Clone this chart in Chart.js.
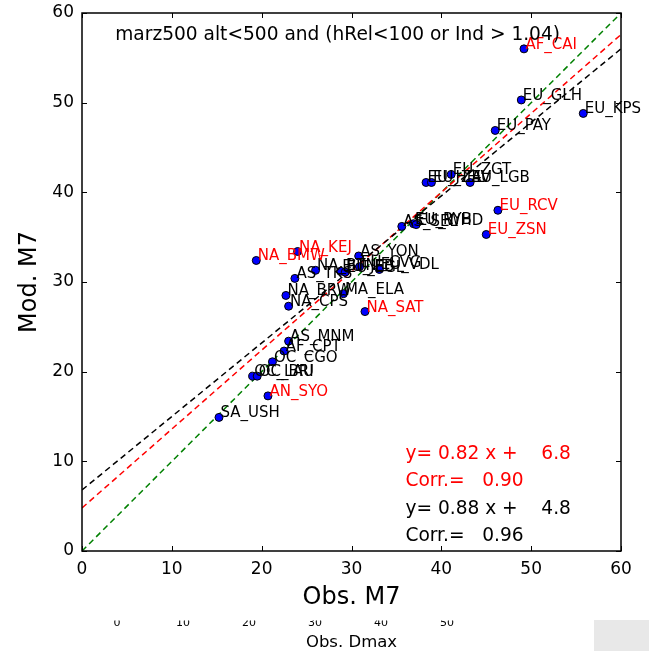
<!DOCTYPE html>
<html>
<head>
<meta charset="utf-8">
<script src="https://cdn.jsdelivr.net/npm/chart.js@4/dist/chart.umd.min.js"></script>
<style>
  body { margin: 0; background: #fff; }
  #wrap { position: relative; width: 649px; height: 651px; }
  #corner { position: absolute; left: 594px; top: 620px; width: 55px; height: 31px; background: #e8e8e8; }
</style>
</head>
<body>
<div id="wrap">
  <canvas id="scatterChart" width="649" height="651"></canvas>
  <div id="corner"></div>
</div>
<script>
// stations with black labels
const blackNames = ["EU_GLH", "EU_KPS", "EU_PAY", "EU_ZGT", "EU_HEL", "EU_ZAV", "EU_LGB",
  "AS_SEL", "EU_RYB", "EU_WHD", "AS_YON", "NA_BTN", "EU_JEB", "EU_EGL", "EU_CVG", "EU_VDL",
  "AS_TKS", "NA_BRW", "NA_CPS", "MA_ELA", "AS_MNM", "AF_CPT", "OC_CGO", "OC_LAU", "OC_BRI", "SA_USH"];
const blackObs = [48.9, 55.8, 46.0, 41.1, 38.3, 38.9, 43.2,
  35.6, 36.9, 37.2, 30.8, 26.0, 28.8, 29.3, 30.9, 33.1,
  23.7, 22.7, 23.0, 29.1, 23.0, 22.5, 21.2, 19.0, 19.5, 15.25];
const blackMod = [50.3, 48.8, 46.9, 42.0, 41.1, 41.1, 41.1,
  36.2, 36.5, 36.4, 32.9, 31.3, 31.2, 31.1, 31.7, 31.4,
  30.4, 28.5, 27.3, 28.7, 23.4, 22.3, 21.1, 19.5, 19.5, 14.9];

// stations with red labels
const redNames = ["AF_CAI", "NA_BMW", "NA_KEJ", "NA_SAT", "EU_RCV", "EU_ZSN", "AN_SYO"];
const redObs = [49.2, 19.4, 24.0, 31.5, 46.3, 45.0, 20.7];
const redMod = [56.0, 32.4, 33.4, 26.7, 38.0, 35.3, 17.3];

// regression lines as drawn: [slope, intercept]
const blackFit = [0.82, 6.8];
const redFit = [0.88, 4.8];
const xRange = [0, 60];

const axisTicks = [0, 10, 20, 30, 40, 50, 60];
const dmaxTicks = [0, 10, 20, 30, 40, 50];

const titleText = "marz500 alt<500 and (hRel<100 or Ind > 1.04)";
const statsLines = [
  ["y= 0.82 x +    6.8", "#ff0000"],
  ["Corr.=   0.90", "#ff0000"],
  ["y= 0.88 x +    4.8", "#000000"],
  ["Corr.=   0.96", "#000000"]
];

const FONT = '"DejaVu Sans", "Liberation Sans", sans-serif';

const toPoints = (xs, ys) => xs.map((x, i) => ({ x: x, y: ys[i] }));
const fitLine = (f) => xRange.map(x => ({ x: x, y: f[0] * x + f[1] }));

const labelPlugin = {
  id: 'stationLabels',
  afterDatasetsDraw(chart) {
    const ctx = chart.ctx;
    ctx.save();
    ctx.font = '15px ' + FONT;
    ctx.textAlign = 'left';
    ctx.textBaseline = 'alphabetic';
    chart.data.datasets.forEach((ds, di) => {
      if (!ds.names) return;
      const meta = chart.getDatasetMeta(di);
      ctx.fillStyle = ds.labelColor;
      meta.data.forEach((pt, i) => ctx.fillText(ds.names[i], pt.x + 1.5, pt.y));
    });

    // texts placed in data coordinates
    const xs = chart.scales.x, ys = chart.scales.y;
    ctx.fillStyle = '#000';
    ctx.font = '18.6px ' + FONT;
    ctx.fillText(titleText, xs.getPixelForValue(3.7), ys.getPixelForValue(57.0));
    statsLines.forEach((l, i) => {
      ctx.fillStyle = l[1];
      ctx.fillText(l[0], xs.getPixelForValue(36), ys.getPixelForValue(10.25 - i * 3.05));
    });
    ctx.restore();
  }
};

// matplotlib style frame with inward ticks
const framePlugin = {
  id: 'frame',
  afterDraw(chart) {
    const { ctx, chartArea: a } = chart;
    const xs = chart.scales.x, ys = chart.scales.y;
    ctx.save();
    // hide the top of the Dmax tick labels
    ctx.fillStyle = '#fff';
    ctx.fillRect(a.left, 608, a.right - a.left, 12.5);
    ctx.strokeStyle = '#000';
    ctx.lineWidth = 1;
    ctx.beginPath();
    axisTicks.forEach(v => {
      const px = Math.round(xs.getPixelForValue(v)) + 0.5;
      ctx.moveTo(px, a.bottom); ctx.lineTo(px, a.bottom - 5);
      ctx.moveTo(px, a.top); ctx.lineTo(px, a.top + 5);
      const py = Math.round(ys.getPixelForValue(v)) + 0.5;
      ctx.moveTo(a.left, py); ctx.lineTo(a.left + 5, py);
      ctx.moveTo(a.right, py); ctx.lineTo(a.right - 5, py);
    });
    ctx.stroke();
    ctx.lineWidth = 1.5;
    ctx.strokeRect(a.left, a.top, a.right - a.left, a.bottom - a.top);
    ctx.restore();
  }
};

new Chart(document.getElementById('scatterChart').getContext('2d'), {
  type: 'scatter',
  data: {
    datasets: [
      {
        data: toPoints(blackObs, blackMod),
        names: blackNames, labelColor: '#000000',
        backgroundColor: '#0000ff', borderColor: '#000000', borderWidth: 1, pointRadius: 4
      },
      {
        data: toPoints(redObs, redMod),
        names: redNames, labelColor: '#ff0000',
        backgroundColor: '#0000ff', borderColor: '#000000', borderWidth: 1, pointRadius: 4
      },
      {
        type: 'line', data: fitLine(blackFit), borderColor: '#000000', borderWidth: 1.5,
        borderDash: [6, 4], pointRadius: 0, fill: false
      },
      {
        type: 'line', data: fitLine(redFit), borderColor: '#ff0000', borderWidth: 1.5,
        borderDash: [6, 4], pointRadius: 0, fill: false
      },
      {
        type: 'line', data: fitLine([1, 0]), borderColor: '#008000', borderWidth: 1.5,
        borderDash: [6, 4], pointRadius: 0, fill: false
      }
    ]
  },
  options: {
    responsive: false,
    animation: false,
    layout: { padding: { left: 0, top: 13, right: 28, bottom: 0 } },
    plugins: { legend: { display: false }, tooltip: { enabled: false } },
    scales: {
      x: {
        type: 'linear', position: 'bottom', min: 0, max: 60,
        afterBuildTicks: s => { s.ticks = axisTicks.map(v => ({ value: v })); },
        afterFit: s => { s.height = 61; s.paddingLeft = 0; s.paddingRight = 0; },
        grid: { display: false, drawTicks: false },
        border: { display: false },
        ticks: { color: '#000', font: { family: FONT, size: 17 }, padding: 8, maxRotation: 0 },
        title: { display: true, text: 'Obs. M7', color: '#000', font: { family: FONT, size: 24 }, padding: 0 }
      },
      x2: {
        type: 'linear', position: 'bottom', min: -5.3, max: 76.37,
        afterBuildTicks: s => { s.ticks = dmaxTicks.map(v => ({ value: v })); },
        afterFit: s => { s.height = 39; s.paddingLeft = 0; s.paddingRight = 0; },
        grid: { display: false, drawTicks: false },
        border: { display: false },
        ticks: { color: '#000', font: { family: FONT, size: 11 }, padding: 5, maxRotation: 0 },
        title: { display: true, text: 'Obs. Dmax', color: '#000', font: { family: FONT, size: 16.5, lineHeight: 1 }, padding: 0 }
      },
      y: {
        type: 'linear', position: 'left', min: 0, max: 60,
        afterBuildTicks: s => { s.ticks = axisTicks.map(v => ({ value: v })); },
        afterFit: s => { s.width = 82; s.paddingTop = 0; s.paddingBottom = 0; },
        grid: { display: false, drawTicks: false },
        border: { display: false },
        ticks: { color: '#000', font: { family: FONT, size: 17 }, padding: 8 },
        title: { display: true, text: 'Mod. M7', color: '#000', font: { family: FONT, size: 24 }, padding: { top: 15.6, bottom: 0 } }
      }
    }
  },
  plugins: [labelPlugin, framePlugin]
});
</script>
</body>
</html>
